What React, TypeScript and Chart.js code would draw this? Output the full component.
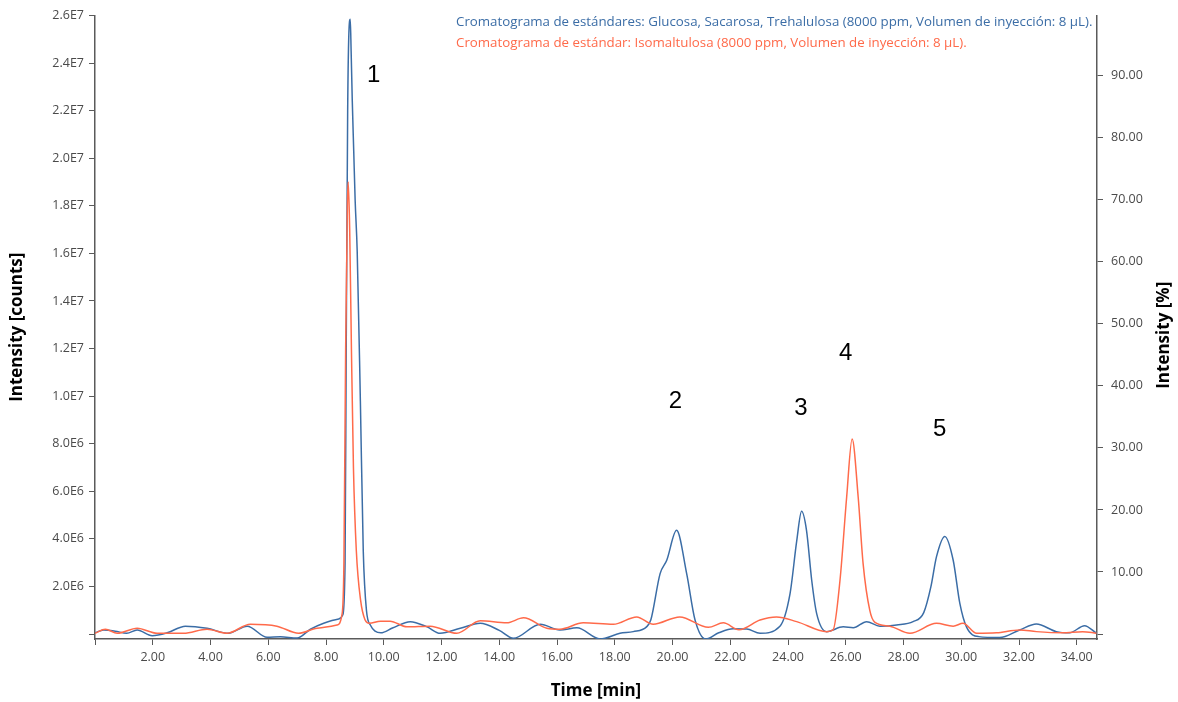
import React, { useEffect, useRef } from "react";
import { Chart, registerables } from "chart.js";

Chart.register(...registerables);

// Chromatogram 1 (blue): Glucosa, Sacarosa, Trehalulosa
const blueTime = [
  0.0, 0.3, 0.7, 1.1, 1.46, 1.98, 2.5, 3.13, 3.88, 4.62, 5.27, 5.96, 6.42, 7.0, 7.46, 7.92, 8.44, 8.58,
  8.66, 8.7, 8.75, 8.8, 8.84, 8.87, 8.91, 8.96, 9.01, 9.08, 9.19, 9.29, 9.4, 9.55, 9.7, 9.9, 10.3,
  10.92, 11.5, 11.95, 12.65, 13.34, 14.0, 14.49, 15.42, 16.1, 16.69, 17.49, 18.18, 18.64, 19.1, 19.25,
  19.57, 19.8, 20.14, 20.49, 20.78, 21.15, 21.6, 22.1, 22.57, 23.03, 23.72, 24.07, 24.3, 24.47, 24.64,
  24.82, 24.99, 25.34, 25.91, 26.26, 26.72, 27.18, 27.76, 28.33, 28.7, 28.95, 29.14, 29.43, 29.72,
  29.95, 30.18, 30.6, 31.33, 32.02, 32.6, 33.29, 33.75, 34.27, 34.68,
];
const blueIntensity = [
  5e4, 1.7e5, 1.2e5, 3e4, 1.7e5, -7e4, 5e4, 3.3e5, 2.4e5, 3e4, 3.3e5, -1.4e5, -1.2e5, -1.7e5, 2e5, 4.5e5, 6.3e5, 8e5,
  3e6, 1.2e7, 2.2e7, 2.55e7, 2.584e7, 2.45e7, 2.24e7, 2.03e7, 1.82e7, 1.61e7, 9.8e6, 3.5e6, 1.0e6, 3.5e5, 1.2e5, 5e4, 2.5e5,
  5.2e5, 3e5, 3e4, 2.4e5, 4.5e5, 1.5e5, -1.8e5, 4.1e5, 1.7e5, 2.6e5, -2.1e5, 3e4, 1e5, 3e5, 6e5,
  2.54e6, 3.1e6, 4.36e6, 2.54e6, 5.9e5, -2.1e5, 5e4, 2.2e5, 2.1e5, 3e4, 3.3e5, 1.7e6, 3.9e6, 5.16e6, 4.36e6,
  2.26e6, 8.7e5, 1e5, 3e5, 2.6e5, 5.2e5, 3.3e5, 3.8e5, 5.2e5, 9e5, 2.0e6, 3.24e6, 4.1e6, 3.1e6,
  1.29e6, 3e5, -1.1e5, -1.5e5, 1.7e5, 4.2e5, 1e5, 5e4, 3.5e5, 3e4,
];

// Chromatogram 2 (red): Isomaltulosa
const redTime = [
  0.0, 0.36, 0.77, 1.46, 2.15, 3.07, 3.88, 4.57, 5.38, 6.3, 7.05, 7.69, 8.38, 8.55, 8.62, 8.68, 8.74,
  8.77, 8.82, 8.88, 8.95, 9.05, 9.2, 9.35, 9.5, 9.88, 10.22, 10.8, 11.61, 12.53, 13.34, 14.26, 14.84,
  15.65, 16.1, 16.91, 17.95, 18.76, 19.33, 20.25, 21.24, 21.76, 22.3, 23.03, 23.6, 24.3, 25.34, 25.56,
  25.8, 26.03, 26.22, 26.43, 26.6, 26.83, 27.0, 27.53, 28.22, 29.14, 29.72, 30.06, 30.53, 31.22, 32.02,
  32.6, 33.5, 34.2, 34.68,
];
const redIntensity = [
  3e4, 2e5, 3e4, 2.4e5, 3e4, 3e4, 2e5, 3e4, 4.1e5, 3.3e5, 3e4, 2.4e5, 3.8e5, 8e5, 3e6, 1.2e7, 1.8e7,
  1.9e7, 1.7e7, 1.2e7, 7e6, 3.5e6, 1.4e6, 6e5, 4.5e5, 5.4e5, 5.4e5, 3e5, 3.3e5, 3e4, 5.6e5, 4.7e5, 6.8e5,
  2.4e5, 2e5, 4.7e5, 4.1e5, 7.2e5, 4.1e5, 7.2e5, 2.8e5, 4.7e5, 1.8e5, 5.9e5, 7.2e5, 5.2e5, 1e5, 1.7e5,
  2.26e6, 5.75e6, 8.2e6, 5.75e6, 2.96e6, 1.0e6, 5e5, 3.3e5, 3e4, 4.5e5, 3.3e5, 4.5e5, 3e4, 5e4, 1.7e5,
  1e5, 5e4, 1e5, 3e4,
];

// Tick values
const timeTicks = [0, 2, 4, 6, 8, 10, 12, 14, 16, 18, 20, 22, 24, 26, 28, 30, 32, 34];
const countTicks = [0, 2e6, 4e6, 6e6, 8e6, 1e7, 1.2e7, 1.4e7, 1.6e7, 1.8e7, 2e7, 2.2e7, 2.4e7, 2.6e7];
const percentTicks = [0, 10, 20, 30, 40, 50, 60, 70, 80, 90];

const legendLabels = [
  "Cromatograma de estándares: Glucosa, Sacarosa, Trehalulosa (8000 ppm, Volumen de inyección: 8 µL).",
  "Cromatograma de estándar: Isomaltulosa (8000 ppm, Volumen de inyección: 8 µL).",
];
const peakLabels = ["1", "2", "3", "4", "5"];
const peakLabelTime = [9.65, 20.1, 24.45, 26.0, 29.25];
const peakLabelIntensity = [2.35e7, 9.8e6, 9.5e6, 1.18e7, 8.6e6];

const BLUE = "#3b6da6";
const RED = "#ff6a4a";
const AXIS = "#5a5a5a";
const TICK_TEXT = "#4a4a4a";
const FONT = "'Open Sans', 'Noto Sans', sans-serif";

function fmtCounts(v: number): string {
  if (v === 0) return "";
  const e = Math.floor(Math.log10(Math.abs(v)) + 1e-9);
  const m = v / Math.pow(10, e);
  return m.toFixed(1) + "E" + e;
}

const annotations = {
  id: "annotations",
  afterDraw(chart: any) {
    const ctx = chart.ctx;
    const x = chart.scales.x;
    const y = chart.scales.y;
    ctx.save();
    // legend text
    ctx.font = `13.3px ${FONT}`;
    ctx.textAlign = "left";
    ctx.textBaseline = "middle";
    ctx.fillStyle = BLUE;
    ctx.fillText(legendLabels[0], 456, 22);
    ctx.fillStyle = RED;
    ctx.fillText(legendLabels[1], 456, 43);
    // peak numbers
    ctx.font = `24px 'Liberation Sans', Arial, sans-serif`;
    ctx.fillStyle = "#000";
    ctx.textAlign = "center";
    for (let i = 0; i < peakLabels.length; i++) {
      ctx.fillText(peakLabels[i], x.getPixelForValue(peakLabelTime[i]), y.getPixelForValue(peakLabelIntensity[i]));
    }
    // right axis title
    const area = chart.chartArea;
    ctx.translate(1164, (area.top + area.bottom) / 2 + 8);
    ctx.rotate(-Math.PI / 2);
    ctx.font = `bold 17px ${FONT}`;
    ctx.fillStyle = "#000";
    ctx.textAlign = "center";
    ctx.fillText("Intensity [%]", 0, 0);
    ctx.restore();
  },
};

export default function App() {
  const ref = useRef<HTMLCanvasElement | null>(null);
  useEffect(() => {
    if (!ref.current) return;
    const blueData = blueTime.map((t, i) => ({ x: t, y: blueIntensity[i] }));
    const redData = redTime.map((t, i) => ({ x: t, y: redIntensity[i] }));
    const gridCommon = {
      display: true,
      drawOnChartArea: false,
      drawTicks: true,
      tickLength: 6,
      color: AXIS,
      lineWidth: 1,
    };
    const setTicks = (vals: number[]) => (s: any) => {
      s.ticks = vals.map((v) => ({ value: v }));
    };
    const chart = new Chart(ref.current, {
      type: "line",
      data: {
        datasets: [
          {
            label: legendLabels[1],
            data: redData,
            borderColor: RED,
            borderWidth: 1.5,
            pointRadius: 0,
            cubicInterpolationMode: "monotone",
            yAxisID: "y",
          },
          {
            label: legendLabels[0],
            data: blueData,
            borderColor: BLUE,
            borderWidth: 1.5,
            pointRadius: 0,
            cubicInterpolationMode: "monotone",
            yAxisID: "y",
          },
        ],
      },
      options: {
        responsive: false,
        animation: false,
        layout: { padding: { top: 15, left: 0, right: 0, bottom: 0 } },
        plugins: { legend: { display: false }, tooltip: { enabled: false } },
        scales: {
          x: {
            type: "linear",
            min: 0,
            max: 34.7,
            afterBuildTicks: setTicks(timeTicks),
            grid: gridCommon,
            border: { display: true, color: AXIS, width: 1.5 },
            ticks: {
              autoSkip: false,
              maxRotation: 0,
              padding: 5,
              color: TICK_TEXT,
              font: { family: FONT, size: 12.5 },
              callback: (v: any) => (Number(v) === 0 ? "" : Number(v).toFixed(2)),
            },
            title: {
              display: true,
              text: "Time [min]",
              color: "#000",
              font: { family: FONT, size: 17, weight: "bold" },
              padding: { top: 0, bottom: 1 },
            },
            afterFit: (s: any) => {
              s.height = 63;
            },
          },
          y: {
            type: "linear",
            position: "left",
            min: -2.1e5,
            max: 2.6e7,
            afterBuildTicks: setTicks(countTicks),
            grid: gridCommon,
            border: { display: true, color: AXIS, width: 1.5 },
            ticks: {
              autoSkip: false,
              padding: 5,
              color: TICK_TEXT,
              font: { family: FONT, size: 12.5 },
              callback: (v: any) => fmtCounts(Number(v)),
            },
            title: {
              display: true,
              text: "Intensity [counts]",
              color: "#000",
              font: { family: FONT, size: 17, weight: "bold" },
              padding: { top: 7, bottom: 0 },
            },
            afterFit: (s: any) => {
              s.width = 95;
            },
          },
          y2: {
            type: "linear",
            position: "right",
            display: true,
            min: -0.8,
            max: 99.7,
            afterBuildTicks: setTicks(percentTicks),
            grid: gridCommon,
            border: { display: true, color: AXIS, width: 1.5 },
            ticks: {
              autoSkip: false,
              padding: 8,
              color: TICK_TEXT,
              font: { family: FONT, size: 12.5 },
              callback: (v: any) => (Number(v) === 0 ? "" : Number(v).toFixed(2)),
            },
            afterFit: (s: any) => {
              s.width = 81;
            },
          },
        },
      } as any,
      plugins: [annotations],
    });
    return () => chart.destroy();
  }, []);
  return (
    <div style={{ position: "fixed", left: 0, top: 0, width: 1178, height: 702, background: "#fff" }}>
      <canvas ref={ref} width={1178} height={702} style={{ display: "block" }} />
    </div>
  );
}
